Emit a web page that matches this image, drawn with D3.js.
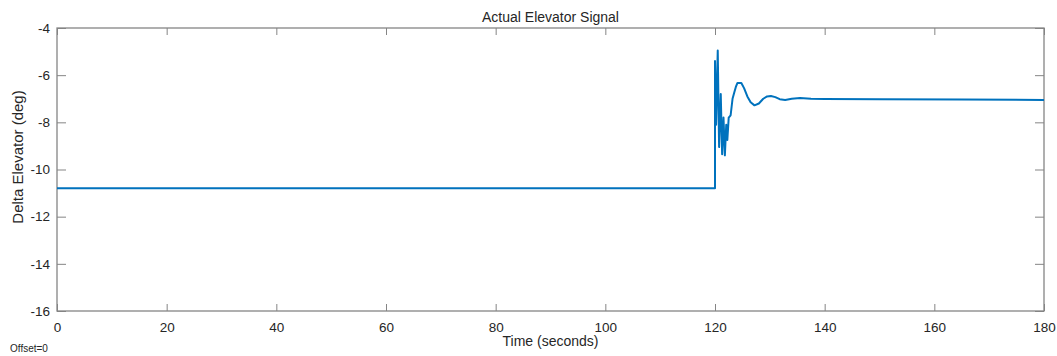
<!DOCTYPE html>
<html>
<head>
<meta charset="utf-8">
<style>
body { margin: 0; background: #fff; }
svg { display: block; }
text { font-family: "Liberation Sans", Arial, sans-serif; fill: #262626; }
</style>
</head>
<body>
<svg width="1057" height="356"></svg>
<script src="https://d3js.org/d3.v7.min.js"></script>
<script>
// elevator signal
var time = [0, 120, 120, 120.2, 120.5, 120.75, 121.05, 121.3, 121.55, 121.8, 122.05, 122.25,
            122.5, 122.85, 123.2, 123.5, 123.8, 124.1, 124.8, 125.3, 125.9, 126.5, 127.2,
            128.0, 128.8, 129.5, 130.2, 131.0, 131.8, 132.8, 134.0, 135.5, 137.5, 140,
            150, 165, 180];
var elev = [-10.8, -10.8, -5.4, -8.1, -4.95, -9.05, -6.8, -9.35, -7.8, -9.4, -8.1, -8.75,
            -7.8, -7.7, -7.0, -6.75, -6.5, -6.33, -6.33, -6.55, -6.9, -7.15, -7.28,
            -7.2, -7.0, -6.9, -6.88, -6.93, -7.02, -7.05, -7.0, -6.97, -7.0, -7.01,
            -7.02, -7.03, -7.05];
var xTicks = [0, 20, 40, 60, 80, 100, 120, 140, 160, 180];
var yTicks = [-16, -14, -12, -10, -8, -6, -4];

var plotL = 57, plotR = 1044, plotT = 28, plotB = 311;
var svg = d3.select("svg");

var x = d3.scaleLinear().domain([0, 180]).range([plotL, plotR]);
var y = d3.scaleLinear().domain([-16, -4]).range([plotB, plotT]);

var axisCol = "#858585";
var plain = function(d) { return String(d); };

function styleAxis(g) {
  g.select(".domain").remove();
  g.selectAll(".tick line").attr("stroke", axisCol);
  g.selectAll(".tick text").style("font-size", "13.5px").attr("fill", "#262626");
}

// bottom and top ticks
svg.append("g").attr("transform", "translate(0," + plotB + ")")
  .call(d3.axisBottom(x).tickValues(xTicks).tickFormat(plain).tickSizeInner(-7).tickSizeOuter(0).tickPadding(11))
  .call(styleAxis);
svg.append("g").attr("transform", "translate(0," + plotT + ")")
  .call(d3.axisTop(x).tickValues(xTicks).tickSizeInner(-7).tickSizeOuter(0).tickFormat(""))
  .call(styleAxis);
// left and right ticks
svg.append("g").attr("transform", "translate(" + plotL + ",0)")
  .call(d3.axisLeft(y).tickValues(yTicks).tickFormat(plain).tickSizeInner(-9).tickSizeOuter(0).tickPadding(7))
  .call(styleAxis);
svg.append("g").attr("transform", "translate(" + plotR + ",0)")
  .call(d3.axisRight(y).tickValues(yTicks).tickSizeInner(-9).tickSizeOuter(0).tickFormat(""))
  .call(styleAxis);

// box
svg.append("rect")
  .attr("x", plotL).attr("y", plotT)
  .attr("width", plotR - plotL).attr("height", plotB - plotT)
  .attr("fill", "none").attr("stroke", axisCol).attr("stroke-width", 1.3);

var pts = time.map(function(t, i) { return [t, elev[i]]; });
svg.append("path")
  .datum(pts)
  .attr("fill", "none")
  .attr("stroke", "#0072BD")
  .attr("stroke-width", 2)
  .attr("stroke-linejoin", "round")
  .attr("d", d3.line().x(function(d) { return x(d[0]); }).y(function(d) { return y(d[1]); }));

svg.append("text")
  .attr("x", (plotL + plotR) / 2).attr("y", 22)
  .attr("text-anchor", "middle").style("font-size", "14px")
  .text("Actual Elevator Signal");

svg.append("text")
  .attr("x", (plotL + plotR) / 2).attr("y", 346)
  .attr("text-anchor", "middle").style("font-size", "14px")
  .text("Time (seconds)");

svg.append("text")
  .attr("transform", "translate(23,157) rotate(-90)")
  .attr("text-anchor", "middle").style("font-size", "15px")
  .text("Delta Elevator (deg)");

svg.append("text")
  .attr("x", 10).attr("y", 352)
  .style("font-size", "10px")
  .text("Offset=0");
</script>
</body>
</html>
